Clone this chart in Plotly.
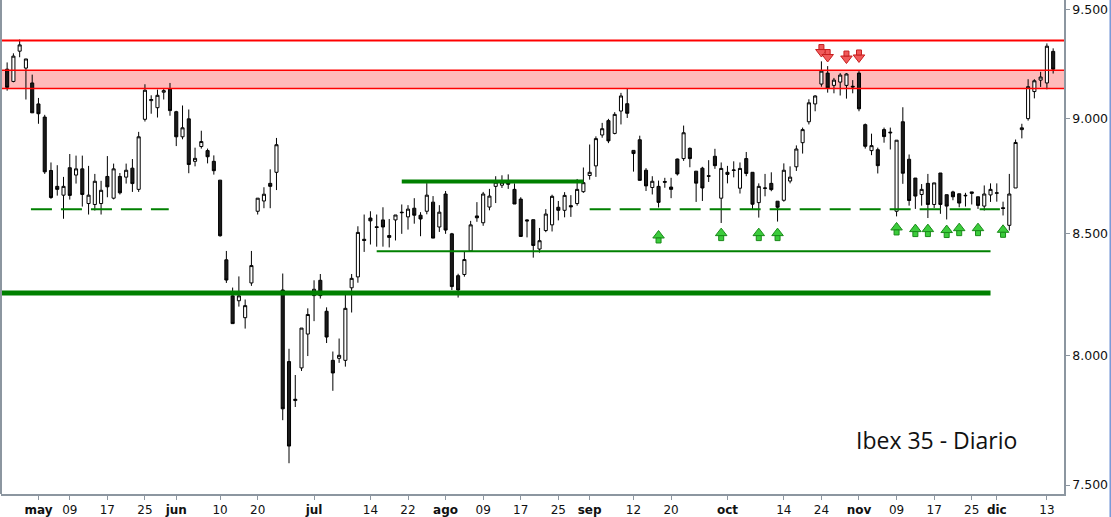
import plotly.graph_objects as go

# trading days shown (Ibex 35, 2016)
dates = [
    "2016-04-25", "2016-04-26", "2016-04-27", "2016-04-28", "2016-04-29",
    "2016-05-02", "2016-05-03", "2016-05-04", "2016-05-05", "2016-05-06",
    "2016-05-09", "2016-05-10", "2016-05-11", "2016-05-12", "2016-05-13",
    "2016-05-16", "2016-05-17", "2016-05-18", "2016-05-19", "2016-05-20",
    "2016-05-23", "2016-05-24", "2016-05-25", "2016-05-26", "2016-05-27",
    "2016-05-30", "2016-05-31",
    "2016-06-01", "2016-06-02", "2016-06-03", "2016-06-06", "2016-06-07",
    "2016-06-08", "2016-06-09", "2016-06-10", "2016-06-13", "2016-06-14",
    "2016-06-15", "2016-06-16", "2016-06-17", "2016-06-20", "2016-06-21",
    "2016-06-22", "2016-06-23", "2016-06-24", "2016-06-27", "2016-06-28",
    "2016-06-29", "2016-06-30",
    "2016-07-01", "2016-07-04", "2016-07-05", "2016-07-06", "2016-07-07",
    "2016-07-08", "2016-07-11", "2016-07-12", "2016-07-13", "2016-07-14",
    "2016-07-15", "2016-07-18", "2016-07-19", "2016-07-20", "2016-07-21",
    "2016-07-22", "2016-07-25", "2016-07-26", "2016-07-27", "2016-07-28",
    "2016-07-29",
    "2016-08-01", "2016-08-02", "2016-08-03", "2016-08-04", "2016-08-05",
    "2016-08-08", "2016-08-09", "2016-08-10", "2016-08-11", "2016-08-12",
    "2016-08-15", "2016-08-16", "2016-08-17", "2016-08-18", "2016-08-19",
    "2016-08-22", "2016-08-23", "2016-08-24", "2016-08-25", "2016-08-26",
    "2016-08-29", "2016-08-30", "2016-08-31",
    "2016-09-01", "2016-09-02", "2016-09-05", "2016-09-06", "2016-09-07",
    "2016-09-08", "2016-09-09", "2016-09-12", "2016-09-13", "2016-09-14",
    "2016-09-15", "2016-09-16", "2016-09-19", "2016-09-20", "2016-09-21",
    "2016-09-22", "2016-09-23", "2016-09-26", "2016-09-27", "2016-09-28",
    "2016-09-29", "2016-09-30",
    "2016-10-03", "2016-10-04", "2016-10-05", "2016-10-06", "2016-10-07",
    "2016-10-10", "2016-10-11", "2016-10-12", "2016-10-13", "2016-10-14",
    "2016-10-17", "2016-10-18", "2016-10-19", "2016-10-20", "2016-10-21",
    "2016-10-24", "2016-10-25", "2016-10-26", "2016-10-27", "2016-10-28",
    "2016-10-31",
    "2016-11-01", "2016-11-02", "2016-11-03", "2016-11-04", "2016-11-07",
    "2016-11-08", "2016-11-09", "2016-11-10", "2016-11-11", "2016-11-14",
    "2016-11-15", "2016-11-16", "2016-11-17", "2016-11-18", "2016-11-21",
    "2016-11-22", "2016-11-23", "2016-11-24", "2016-11-25", "2016-11-28",
    "2016-11-29", "2016-11-30",
    "2016-12-01", "2016-12-02", "2016-12-05", "2016-12-06", "2016-12-07",
    "2016-12-08", "2016-12-09", "2016-12-12", "2016-12-13", "2016-12-14",
]

opens = [
    9223, 9167, 9306, 9228, 9160,
    9065, 9006, 8770, 8701, 8663, 8782, 8750, 8777, 8627, 8623,
    8627, 8744, 8650, 8744, 8741, 8780, 8688, 8996, 9080, 9048, 9118, 9132,
    9030, 8918, 8998, 8810, 8875, 8857, 8810, 8728, 8389, 8240,
    8220, 8151, 8293, 8594, 8638, 8714, 8762, 8264, 7975, 7822, 7950, 8085,
    8241, 8304, 8177, 7980, 7988, 7980, 8273, 8318, 8475, 8565,
    8528, 8557, 8491, 8557, 8590, 8570, 8607, 8577, 8594, 8633, 8527,
    8668, 8498, 8323, 8328, 8426, 8574, 8545, 8612, 8701, 8706,
    8719, 8688, 8646, 8557, 8558, 8434, 8512, 8536, 8611, 8598, 8618, 8627, 8678,
    8748, 8790, 8926, 8990, 8933, 9033, 9066, 8858, 8905, 8771,
    8696, 8701, 8722, 8698, 8820, 8822, 8867, 8767, 8780, 8747, 8832, 8650,
    8762, 8770, 8693, 8822, 8762, 8631, 8692, 8714, 8637, 8641,
    8724, 8786, 8892, 8985, 9065, 9155, 9205, 9149, 9164, 9149, 9145,
    9205, 8972, 8857, 8861, 8950, 8935, 8594, 8985, 8819, 8737,
    8666, 8714, 8623, 8759, 8665, 8677, 8669, 8660, 8677, 8656, 8616, 8664,
    8671, 8609, 8534, 8694, 8950, 8999, 9121, 9173, 9160, 9305,
]

highs = [
    9254, 9296, 9360, 9270, 9198,
    9092, 9016, 8805, 8793, 8742, 8842, 8835, 8835, 8790, 8755,
    8725, 8833, 8800, 8759, 8800, 8820, 8940, 9154, 9104, 9130, 9135, 9160,
    9034, 9058, 9040, 8870, 8945, 8866, 8836, 8728, 8426, 8274,
    8320, 8225, 8426, 8650, 8697, 8775, 8913, 8332, 8026, 7922, 8109, 8189,
    8304, 8330, 8193, 8015, 8067, 8248, 8330, 8530, 8580, 8594,
    8580, 8611, 8561, 8578, 8623, 8620, 8650, 8590, 8715, 8659, 8620,
    8681, 8502, 8331, 8423, 8553, 8633, 8677, 8690, 8745, 8749,
    8753, 8714, 8654, 8560, 8558, 8523, 8603, 8665, 8638, 8676, 8663, 8733, 8783,
    8884, 8920, 8980, 8998, 9028, 9115, 9137, 8858, 8923, 8780,
    8745, 8726, 8738, 8738, 8822, 8968, 8871, 8767, 8786, 8815, 8865, 8805,
    8790, 8810, 8805, 8851, 8762, 8714, 8755, 8762, 8637, 8801,
    8788, 8880, 8959, 9086, 9104, 9259, 9237, 9183, 9205, 9205, 9173,
    9214, 8977, 8932, 8870, 8959, 8959, 8903, 9050, 8840, 8737,
    8711, 8755, 8716, 8759, 8665, 8682, 8669, 8673, 8677, 8656, 8705, 8714,
    8714, 8635, 8755, 8906, 8976, 9177, 9177, 9211, 9342, 9319,
]

lows = [
    9125, 9163, 9278, 9085, 9025,
    8976, 8755, 8647, 8661, 8562, 8644, 8713, 8614, 8580, 8597,
    8580, 8654, 8645, 8666, 8713, 8677, 8677, 8986, 9021, 9004, 9085, 9012,
    8877, 8907, 8758, 8788, 8866, 8801, 8752, 8486, 8293, 8127,
    8196, 8107, 8281, 8580, 8607, 8607, 8685, 7746, 7582, 7797, 7938, 7997,
    8137, 8229, 8049, 7860, 7970, 7955, 8172, 8294, 8422, 8453,
    8444, 8444, 8441, 8470, 8498, 8516, 8541, 8488, 8581, 8480, 8506,
    8498, 8264, 8233, 8319, 8426, 8549, 8532, 8598, 8629, 8694,
    8690, 8625, 8487, 8483, 8398, 8419, 8505, 8508, 8555, 8568, 8570, 8618, 8673,
    8730, 8742, 8914, 8890, 8929, 8973, 9002, 8765, 8727, 8681,
    8666, 8610, 8695, 8650, 8748, 8812, 8784, 8634, 8638, 8720, 8777, 8544,
    8714, 8740, 8670, 8745, 8600, 8567, 8658, 8680, 8550, 8635,
    8714, 8768, 8844, 8973, 9032, 9143, 9116, 9113, 9103, 9089, 9113,
    9032, 8866, 8837, 8757, 8892, 8862, 8572, 8712, 8618, 8604,
    8618, 8565, 8608, 8583, 8559, 8641, 8611, 8614, 8623, 8604, 8597, 8634,
    8635, 8576, 8512, 8694, 8911, 8990, 9090, 9142, 9131, 9203,
]

closes = [
    9140, 9283, 9335, 9270, 9025,
    9021, 8764, 8653, 8688, 8701, 8662, 8777, 8666, 8663, 8723,
    8684, 8699, 8777, 8673, 8771, 8713, 8918, 9127, 9085, 9104, 9125, 9035,
    8918, 8958, 8796, 8823, 8897, 8830, 8769, 8490, 8305, 8127,
    8240, 8200, 8365, 8650, 8667, 8701, 8883, 7790, 7647, 7827, 8109, 8164,
    8267, 8241, 8073, 7930, 8000, 8189, 8312, 8504, 8470, 8553,
    8525, 8527, 8483, 8578, 8588, 8603, 8577, 8561, 8663, 8480, 8590,
    8514, 8278, 8264, 8390, 8536, 8566, 8668, 8659, 8719, 8719,
    8710, 8625, 8487, 8553, 8449, 8469, 8582, 8658, 8598, 8662, 8613, 8688, 8717,
    8762, 8910, 8954, 8900, 9018, 9101, 9023, 8844, 8727, 8703,
    8723, 8632, 8719, 8688, 8755, 8936, 8822, 8715, 8694, 8745, 8791, 8779,
    8753, 8772, 8779, 8757, 8624, 8701, 8694, 8687, 8611, 8771,
    8741, 8864, 8950, 9070, 9101, 9214, 9137, 9173, 9196, 9201, 9142,
    9043, 8876, 8879, 8791, 8919, 8938, 8903, 8758, 8640, 8659,
    8688, 8623, 8716, 8623, 8616, 8656, 8629, 8662, 8671, 8619, 8668, 8688,
    8673, 8606, 8668, 8893, 8958, 9143, 9170, 9187, 9329, 9223,
]

tick_dates = [
    "2016-05-02", "2016-05-09", "2016-05-17", "2016-05-25", "2016-06-01",
    "2016-06-10", "2016-06-20", "2016-07-01", "2016-07-14", "2016-07-22",
    "2016-08-01", "2016-08-09", "2016-08-17", "2016-08-25", "2016-09-01",
    "2016-09-12", "2016-09-20", "2016-10-03", "2016-10-14", "2016-10-24",
    "2016-11-01", "2016-11-09", "2016-11-17", "2016-11-25", "2016-12-01",
    "2016-12-13",
]
tick_labels = [
    "<b>may</b>", "09", "17", "25", "<b>jun</b>", "10", "20", "<b>jul</b>",
    "14", "22", "<b>ago</b>", "09", "17", "25", "<b>sep</b>", "12", "20",
    "<b>oct</b>", "14", "24", "<b>nov</b>", "09", "17", "25", "<b>dic</b>", "13",
]

price_ticks = [7500, 8000, 8500, 9000, 9500]
price_labels = ["7.500", "8.000", "8.500", "9.000", "9.500"]

# resistance / support levels
resistance_top = 9355
zone_low, zone_high = 9135, 9218
support_main = 8252
support_thin = 8425
resistance_aug = 8722
support_dashed = 8603

red_arrow_dates = ["2016-10-24", "2016-10-25", "2016-10-28", "2016-11-01"]
red_arrow_prices = [9302, 9279, 9272, 9277]
green_arrow_dates = [
    "2016-09-16", "2016-09-30", "2016-10-10", "2016-10-13", "2016-11-09",
    "2016-11-14", "2016-11-16", "2016-11-21", "2016-11-23", "2016-11-28",
    "2016-12-02",
]
green_arrow_prices = [8491, 8501, 8501, 8501, 8525, 8518, 8518, 8514, 8522, 8522, 8515]

Y_RANGE = [3.87314, 3.97981]
PLOT_H = 496
px_per_decade = PLOT_H / (Y_RANGE[1] - Y_RANGE[0])

GREEN = "#008000"
RED = "#ff0000"
AXIS = "#8c96a0"


def idx(d, shift=0.0):
    return dates.index(d) + shift


fig = go.Figure()
fig.add_trace(go.Candlestick(
    x=dates, open=opens, high=highs, low=lows, close=closes,
    increasing=dict(line=dict(color="black", width=1), fillcolor="white"),
    decreasing=dict(line=dict(color="black", width=1), fillcolor="#1a1a1a"),
    whiskerwidth=0,
    showlegend=False,
))


def add_arrows(xs, ys, up, fill, edge):
    # block arrow = triangle head + small square stem
    off = 5 / px_per_decade
    stem_y = [y * 10 ** (-off if up else off) for y in ys]
    fig.add_trace(go.Scatter(
        x=xs, y=ys, mode="markers", showlegend=False, hoverinfo="skip",
        marker=dict(symbol="triangle-up" if up else "triangle-down", size=10,
                    color=fill, line=dict(color=edge, width=1)),
    ))
    fig.add_trace(go.Scatter(
        x=xs, y=stem_y, mode="markers", showlegend=False, hoverinfo="skip",
        marker=dict(symbol="square", size=5, color=fill,
                    line=dict(color=edge, width=1)),
    ))


add_arrows(red_arrow_dates, red_arrow_prices, False, "#f05a5a", "#c81e1e")
add_arrows(green_arrow_dates, green_arrow_prices, True, "#3ccc3c", "#1a8a1a")

shapes = [
    # pink zone
    dict(type="rect", xref="paper", x0=0, x1=1, yref="y", y0=zone_low, y1=zone_high,
         fillcolor="#ffbaba", line=dict(width=0), layer="below"),
    dict(type="line", xref="paper", x0=0, x1=1, yref="y", y0=zone_low, y1=zone_low,
         line=dict(color=RED, width=1.5)),
    dict(type="line", xref="paper", x0=0, x1=1, yref="y", y0=zone_high, y1=zone_high,
         line=dict(color=RED, width=1.5)),
    dict(type="line", xref="paper", x0=0, x1=1, yref="y", y0=resistance_top, y1=resistance_top,
         line=dict(color=RED, width=2)),
    # green levels
    dict(type="line", xref="x", x0=-0.98, x1=idx("2016-11-30"), yref="y",
         y0=support_main, y1=support_main, line=dict(color=GREEN, width=5)),
    dict(type="line", xref="x", x0=idx("2016-07-15"), x1=idx("2016-11-30"), yref="y",
         y0=support_thin, y1=support_thin, line=dict(color=GREEN, width=2)),
    dict(type="line", xref="x", x0=idx("2016-07-21"), x1=idx("2016-08-31"), yref="y",
         y0=resistance_aug, y1=resistance_aug, line=dict(color=GREEN, width=4)),
    dict(type="line", xref="x", x0=idx("2016-04-29", -0.2), x1=idx("2016-05-31", -0.2), yref="y",
         y0=support_dashed, y1=support_dashed, line=dict(color=GREEN, width=2, dash="21px,9px")),
    dict(type="line", xref="x", x0=idx("2016-09-01"), x1=idx("2016-12-01", 0.5), yref="y",
         y0=support_dashed, y1=support_dashed, line=dict(color=GREEN, width=2, dash="21px,9px")),
    # left frame line
    dict(type="line", xref="paper", x0=0, x1=0, yref="paper", y0=0, y1=1,
         line=dict(color=AXIS, width=2)),
    # window frame (right edge)
    dict(type="line", xref="paper", x0=1.0437, x1=1.0437, yref="paper", y0=-0.05, y1=1,
         line=dict(color="#7a9ad8", width=2)),
]

fig.update_layout(
    width=1111, height=517,
    margin=dict(l=1, r=47, t=0, b=21),
    paper_bgcolor="white", plot_bgcolor="white",
    shapes=shapes,
    hovermode=False,
    xaxis=dict(
        type="category", range=[-0.98, 168.73],
        tickmode="array", tickvals=tick_dates, ticktext=tick_labels,
        ticks="outside", ticklen=4, tickcolor=AXIS,
        showline=True, linecolor=AXIS, linewidth=1.5,
        showgrid=False, zeroline=False,
        rangeslider=dict(visible=False),
        tickfont=dict(family="DejaVu Sans", size=12, color="#111111"),
    ),
    yaxis=dict(
        type="log", side="right", range=Y_RANGE,
        tickmode="array", tickvals=price_ticks, ticktext=price_labels,
        ticks="outside", ticklen=4, tickcolor=AXIS,
        showline=True, linecolor=AXIS, linewidth=1.5,
        showgrid=False, zeroline=False,
        tickfont=dict(family="DejaVu Sans", size=12.5, color="#111111"),
    ),
    annotations=[dict(
        text="Ibex 35 - Diario", xref="paper", yref="paper", x=0.8796, y=0.1089,
        xanchor="center", yanchor="middle", showarrow=False,
        font=dict(family="Open Sans", size=23, color="#111111"),
    )],
)

# the page's default body margin would shift the chart; remove it
fig.write_html(
    "out.html",
    config={"displayModeBar": False},
    post_script="document.body.style.margin = '0px';",
)
